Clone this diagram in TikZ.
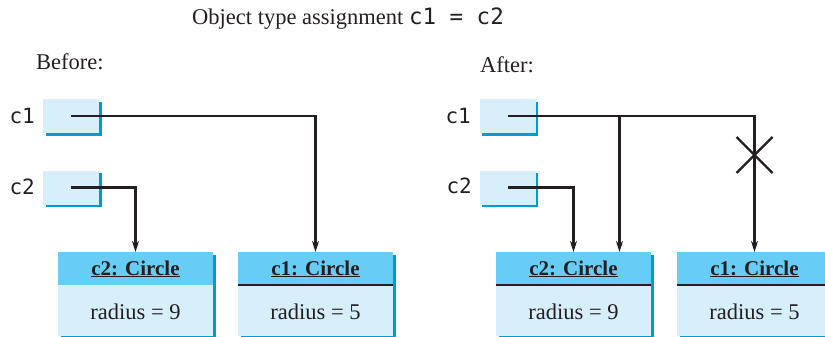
\documentclass[tikz,border=0pt]{standalone}
\usepackage{fontspec}
\setmainfont{Liberation Serif}[BoldFont={Liberation Serif Bold}]
\setmonofont{DejaVu Sans Mono}
\usepackage{xcolor}
\definecolor{inkgray}{RGB}{35, 31, 32}
\definecolor{paleblue}{RGB}{214, 239, 251}
\definecolor{headblue}{RGB}{104, 205, 244}
\definecolor{shadeblue}{RGB}{0, 155, 210}
\usepackage{tikz}
\usetikzlibrary{arrows.meta, positioning, shadows}

\begin{document}
\begin{tikzpicture}[x=1pt, y=-1pt, >={Stealth[length=11pt, width=7pt]},
    txt/.style={inner sep=0pt, text=inkgray, font=\fontsize{22.5}{26}\selectfont},
    varname/.style={inner sep=0pt, anchor=base east, text=inkgray, font=\ttfamily\fontsize{21}{24}\selectfont},
    refbox/.style={fill=paleblue, minimum width=56pt, minimum height=34pt, inner sep=0pt, outer sep=0pt,
        drop shadow={shadow xshift=2.5pt, shadow yshift=-2.5pt, fill=shadeblue, opacity=1}},
    objhead/.style={fill=headblue, minimum width=155pt, minimum height=33pt, inner sep=0pt, outer sep=0pt,
        text height=18pt, text depth=5pt, text=inkgray, font=\rmfamily\bfseries\fontsize{21}{24}\selectfont,
        drop shadow={shadow xshift=2.5pt, shadow yshift=-2.5pt, fill=shadeblue, opacity=1}},
    objbody/.style={fill=paleblue, minimum width=155pt, minimum height=51pt, inner sep=0pt, outer sep=0pt,
        text height=20pt, text depth=3pt, text=inkgray, font=\fontsize{22.5}{26}\selectfont,
        drop shadow={shadow xshift=2.5pt, shadow yshift=-2.5pt, fill=shadeblue, opacity=1}},
    link/.style={line width=2.2pt, draw=inkgray},
    sepline/.style={line width=1.2pt, draw=inkgray}]
    \useasboundingbox (0,0) rectangle (825,337);

    % title and captions
    \node[txt, anchor=base] (title) at (348,25) {Object type assignment \texttt{c1 = c2}};
    \node[txt, anchor=base west] (before) at (36,70) {Before:};
    \node[txt, anchor=base west] (after) at (480,73) {After:};

    % before: reference variables
    \node[refbox] (c1refL) at (71,116) {};
    \node[refbox] (c2refL) at (71,187.5) {};
    \node[varname] (c1nameL) at (35,123) {c1};
    \node[varname] (c2nameL) at (35,194) {c2};

    % before: objects
    \node[objhead] (c2headL) at (135.5,268.5) {\underline{c2: Circle}};
    \node[objbody, below=0pt of c2headL] (c2bodyL) {radius = 9};
    \node[objhead] (c1headL) at (315.5,268.5) {\underline{c1: Circle}};
    \node[objbody, below=0pt of c1headL] (c1bodyL) {radius = 5};
    \draw[sepline] (c1headL.south west) -- (c1headL.south east);

    \draw[link, ->] (c1refL.center) -| (c1headL.north);
    \draw[link, ->] (c2refL.center) -| (c2headL.north);

    % after: reference variables
    \node[refbox] (c1refR) at (507.5,116) {};
    \node[refbox] (c2refR) at (507.5,187.5) {};
    \node[varname] (c1nameR) at (471,123) {c1};
    \node[varname] (c2nameR) at (472,193) {c2};

    % after: objects
    \node[objhead] (c2headR) at (573.5,268.5) {\underline{c2: Circle}};
    \node[objbody, below=0pt of c2headR] (c2bodyR) {radius = 9};
    \node[objhead] (c1headR) at (754.5,268.5) {\underline{c1: Circle}};
    \node[objbody, below=0pt of c1headR] (c1bodyR) {radius = 5};
    \draw[sepline] (c2headR.south west) -- (c2headR.south east);
    \draw[sepline] (c1headR.south west) -- (c1headR.south east);

    \coordinate (c2inR) at ([xshift=46pt]c2headR.north);
    \coordinate (cut) at (c1headR.north |- 0,155);
    \draw[link, ->] (c1refR.center) -| (c1headR.north);
    \draw[link, ->] (c1refR.center -| c2inR) -- (c2inR);
    \draw[link, ->] (c2refR.center) -| (c2headR.north);
    \draw[link] ([shift={(-18pt,18pt)}]cut) -- ([shift={(18pt,-18pt)}]cut);
    \draw[link] ([shift={(-18pt,-18pt)}]cut) -- ([shift={(18pt,18pt)}]cut);
\end{tikzpicture}
\end{document}
